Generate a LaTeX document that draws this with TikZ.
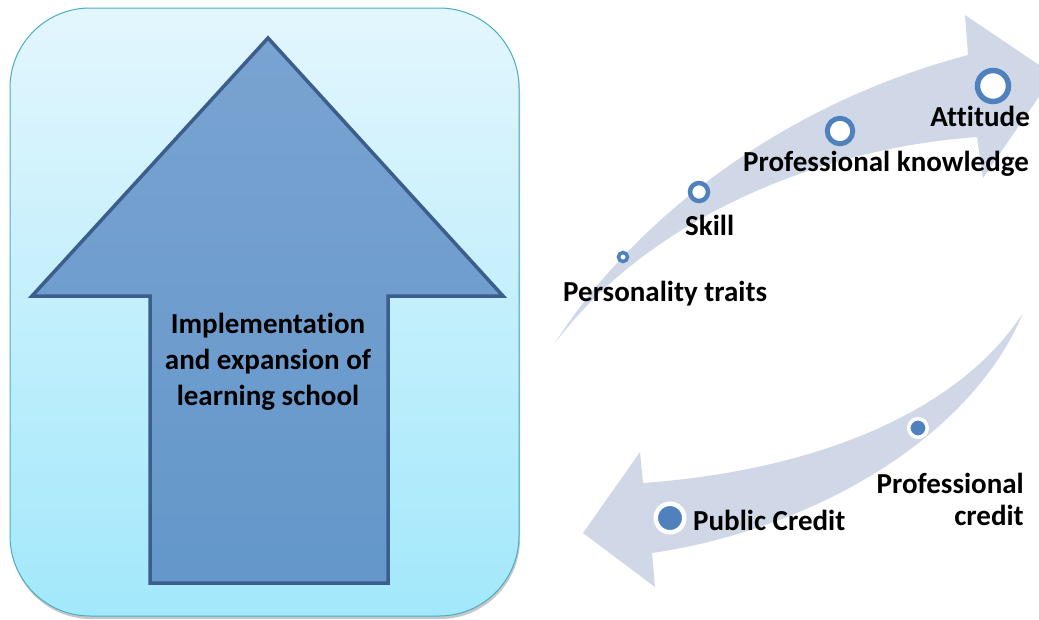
\documentclass[tikz,border=0pt]{standalone}
\usepackage{fontspec}
\setmainfont{Carlito}[Ligatures=NoCommon]
\usetikzlibrary{positioning}

\definecolor{boxtop}{HTML}{E3F6FD}
\definecolor{boxbot}{HTML}{A2E8FB}
\definecolor{boxline}{HTML}{4BACC6}
\definecolor{uptop}{HTML}{79A3D1}
\definecolor{upbot}{HTML}{6497CA}
\definecolor{upline}{HTML}{3B5E8C}
\definecolor{curve}{HTML}{D0D8E8}
\definecolor{dot}{HTML}{4F81BD}

\begin{document}
\begin{tikzpicture}[x=1pt,y=-1pt,
        label/.style={font=\fontsize{29}{36}\selectfont\bfseries, inner sep=0pt},
        ring/.style={circle, draw=dot, fill=white, inner sep=0pt},
        spot/.style={circle, draw=white, fill=dot, inner sep=0pt}]
        \useasboundingbox (0,0) rectangle (1039,619);

        % draw the box with its shadow
        \fill[black!22, rounded corners=80pt] (11,12) rectangle (520,619);
        \shade[top color=boxtop, bottom color=boxbot, draw=boxline, line width=1pt, rounded corners=80pt]
            (10,8) rectangle (519,616);

        % draw the big arrow
        \shade[top color=uptop, bottom color=upbot, draw=upline, line width=3.5pt, line join=miter]
            (268,38) -- (503,296) -- (388,296) -- (388,583) -- (150,583) -- (150,296) -- (32,296) -- cycle;
        \node[label, align=center] (school) at (268,362) {Implementation\\and expansion of\\learning school};

        % draw the two curved arrows
        \fill[curve] (555,343) .. controls (620,240) and (760,110) .. (968,55)
            -- (965,15) -- (1054,75) -- (983,178) -- (977,137)
            .. controls (800,150) and (640,230) .. (555,343) -- cycle;
        \fill[curve] (1023,313) .. controls (960,410) and (820,470) .. (643,483)
            -- (640,452) -- (583,533) -- (655,587) -- (652,553)
            .. controls (810,530) and (970,440) .. (1023,313) -- cycle;

        % the steps on the upper arrow
        \node[ring, minimum size=9pt, line width=3.5pt] (traitsdot) at (623,257) {};
        \node[ring, minimum size=18pt, line width=4.5pt] (skilldot) at (699,192) {};
        \node[ring, minimum size=25.5pt, line width=5pt] (knowdot) at (840,131) {};
        \node[ring, minimum size=31pt, line width=5.5pt] (attdot) at (993,86) {};

        \node[label, anchor=base west] (traits) at (563,301) {Personality traits};
        \node[label, anchor=base west] (skill) at (685,235) {Skill};
        \node[label, anchor=base west] (know) at (743,171) {Professional knowledge};
        \node[label, anchor=base east] (att) at (1030,126) {Attitude};

        % the steps on the lower arrow
        \node[spot, minimum size=18.5pt, line width=3.5pt] (profdot) at (918,428) {};
        \node[spot, minimum size=28.5pt, line width=4.5pt] (publicdot) at (670,518) {};

        \node[label, font=\fontsize{29}{32}\selectfont\bfseries, align=right, anchor=east] (prof) at (1024,499) {Professional\\credit};
        \node[label, anchor=base west] (public) at (693,530) {Public Credit};
\end{tikzpicture}
\end{document}
